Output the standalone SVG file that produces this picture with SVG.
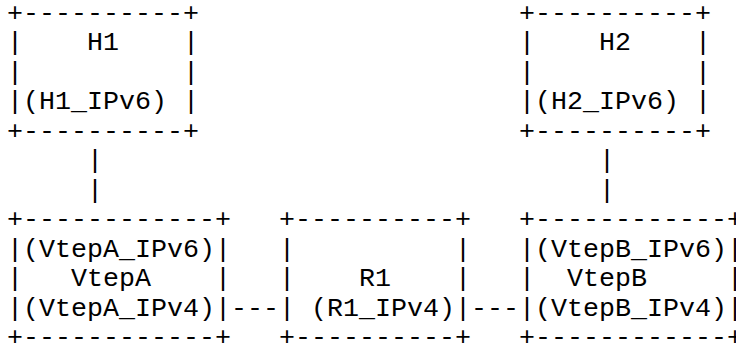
<svg xmlns="http://www.w3.org/2000/svg" width="736" height="345" viewBox="0 0 736 345">
<style>
text{font-family:"Liberation Mono","Courier New",monospace;font-size:26.67px;fill:#000;white-space:pre}
</style>
<rect width="736" height="345" fill="#fff"/>
<g id="H1">
<text x="7" y="21" xml:space="preserve">+----------+</text>
<text x="7" y="50.45" xml:space="preserve">|    H1    |</text>
<text x="7" y="79.9" xml:space="preserve">|          |</text>
<text x="7" y="109.35" xml:space="preserve">|(H1_IPv6) |</text>
<text x="7" y="138.8" xml:space="preserve">+----------+</text>
</g>
<g id="H2">
<text x="519" y="21" xml:space="preserve">+----------+</text>
<text x="519" y="50.45" xml:space="preserve">|    H2    |</text>
<text x="519" y="79.9" xml:space="preserve">|          |</text>
<text x="519" y="109.35" xml:space="preserve">|(H2_IPv6) |</text>
<text x="519" y="138.8" xml:space="preserve">+----------+</text>
</g>
<g id="VtepA">
<text x="7" y="227.15" xml:space="preserve">+------------+</text>
<text x="7" y="256.6" xml:space="preserve">|(VtepA_IPv6)|</text>
<text x="7" y="286.05" xml:space="preserve">|   VtepA    |</text>
<text x="7" y="315.5" xml:space="preserve">|(VtepA_IPv4)|</text>
<text x="7" y="344.95" xml:space="preserve">+------------+</text>
</g>
<g id="R1">
<text x="279" y="227.15" xml:space="preserve">+----------+</text>
<text x="279" y="256.6" xml:space="preserve">|          |</text>
<text x="279" y="286.05" xml:space="preserve">|    R1    |</text>
<text x="279" y="315.5" xml:space="preserve">| (R1_IPv4)|</text>
<text x="279" y="344.95" xml:space="preserve">+----------+</text>
</g>
<g id="VtepB">
<text x="519" y="227.15" xml:space="preserve">+------------+</text>
<text x="519" y="256.6" xml:space="preserve">|(VtepB_IPv6)|</text>
<text x="519" y="286.05" xml:space="preserve">|  VtepB     |</text>
<text x="519" y="315.5" xml:space="preserve">|(VtepB_IPv4)|</text>
<text x="519" y="344.95" xml:space="preserve">+------------+</text>
</g>
<g id="connectors">
<text x="87" y="168.25">|</text>
<text x="87" y="197.7">|</text>
<text x="599" y="168.25">|</text>
<text x="599" y="197.7">|</text>
<text x="231" y="315.5">---</text>
<text x="471" y="315.5">---</text>
</g>
</svg>
